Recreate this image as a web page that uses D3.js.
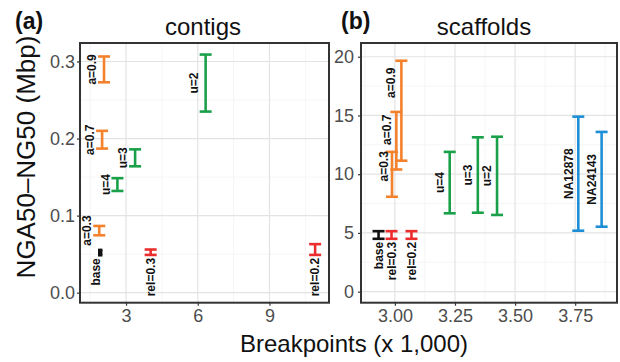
<!DOCTYPE html>
<html>
<head>
<meta charset="utf-8">
<script src="https://cdn.jsdelivr.net/npm/d3@7"></script>
<style>
  html, body { margin: 0; padding: 0; background: #fff; }
  svg { display: block; font-family: "Liberation Sans", Arial, Helvetica, sans-serif; }
</style>
</head>
<body>
<svg id="chart" width="620" height="362"></svg>
<script>
// ---------------- DATA ----------------
// (a) contigs
const contigLabels = ["base", "a=0.3", "a=0.7", "a=0.9", "u=4", "u=3", "u=2", "rel=0.3", "rel=0.2"];
const contigGroups = ["base", "a", "a", "a", "u", "u", "u", "rel", "rel"];
const contigBreakpoints = [1.92, 1.88, 2.0, 2.08, 2.64, 3.38, 6.33, 4.03, 10.91];
const contigLow  = [0.0486, 0.0745, 0.187, 0.273, 0.132, 0.164, 0.235, 0.049, 0.049];
const contigHigh = [0.0555, 0.0866, 0.210, 0.3065, 0.1486, 0.186, 0.309, 0.056, 0.063];
const contigXTicks = [3, 6, 9];
const contigYTicks = [0.0, 0.1, 0.2, 0.3];

// (b) scaffolds
const scaffoldLabels = ["base", "rel=0.3", "rel=0.2", "a=0.3", "a=0.7", "a=0.9", "u=4", "u=3", "u=2", "NA12878", "NA24143"];
const scaffoldGroups = ["base", "rel", "rel", "a", "a", "a", "u", "u", "u", "sample", "sample"];
const scaffoldBreakpoints = [2.932, 2.986, 3.069, 2.988, 3.006, 3.027, 3.228, 3.345, 3.425, 3.763, 3.86];
const scaffoldLow  = [4.5, 4.5, 4.5, 8.08, 10.4, 11.15, 6.67, 6.72, 6.53, 5.19, 5.53];
const scaffoldHigh = [5.15, 5.15, 5.15, 11.9, 15.3, 19.66, 11.9, 13.14, 13.19, 14.9, 13.6];
const scaffoldXTicks = [3.0, 3.25, 3.5, 3.75];
const scaffoldYTicks = [0, 5, 10, 15, 20];

// ---------------- STYLE / LAYOUT ----------------
const groupColor = { base: "#111111", a: "#f4812c", u: "#1ba04a", rel: "#ec2d2d", sample: "#1e8fd6" };
const belowGroups = new Set(["base", "rel"]);

const svg = d3.select("#chart");
const panelTop = 43, panelBottom = 302.7;

function drawPanel(cfg) {
  const x = d3.scaleLinear().domain(cfg.xDomain).range([cfg.left, cfg.right]);
  const y = d3.scaleLinear().domain(cfg.yDomain).range([panelBottom, panelTop]);
  const g = svg.append("g");

  // background
  g.append("rect").attr("x", cfg.left).attr("y", panelTop)
    .attr("width", cfg.right - cfg.left).attr("height", panelBottom - panelTop)
    .attr("fill", "#fff");

  // minor grid
  const xMinor = [], yMinor = [];
  const xs = cfg.xTicks, ys = cfg.yTicks;
  const xStep = xs[1] - xs[0], yStep = ys[1] - ys[0];
  for (let v = xs[0] - xStep / 2; v <= cfg.xDomain[1]; v += xStep) if (v >= cfg.xDomain[0]) xMinor.push(v);
  for (let v = ys[0] - yStep / 2; v <= cfg.yDomain[1]; v += yStep) if (v >= cfg.yDomain[0]) yMinor.push(v);
  g.selectAll(".xminor").data(xMinor).join("line")
    .attr("x1", d => x(d)).attr("x2", d => x(d)).attr("y1", panelTop).attr("y2", panelBottom)
    .attr("stroke", "#f2f2f2").attr("stroke-width", 0.8);
  g.selectAll(".yminor").data(yMinor).join("line")
    .attr("y1", d => y(d)).attr("y2", d => y(d)).attr("x1", cfg.left).attr("x2", cfg.right)
    .attr("stroke", "#f2f2f2").attr("stroke-width", 0.8);
  // major grid
  g.selectAll(".xmajor").data(xs).join("line")
    .attr("x1", d => x(d)).attr("x2", d => x(d)).attr("y1", panelTop).attr("y2", panelBottom)
    .attr("stroke", "#e3e3e3").attr("stroke-width", 1.2);
  g.selectAll(".ymajor").data(ys).join("line")
    .attr("y1", d => y(d)).attr("y2", d => y(d)).attr("x1", cfg.left).attr("x2", cfg.right)
    .attr("stroke", "#e3e3e3").attr("stroke-width", 1.2);

  // axes
  const xAxis = d3.axisBottom(x).tickValues(xs).tickFormat(cfg.xFormat).tickSize(3).tickSizeOuter(0).tickPadding(4);
  const yAxis = d3.axisLeft(y).tickValues(ys).tickFormat(cfg.yFormat).tickSize(3).tickSizeOuter(0).tickPadding(cfg.yPad);
  const gx = g.append("g").attr("transform", `translate(0,${panelBottom})`).call(xAxis);
  const gy = g.append("g").attr("transform", `translate(${cfg.left},0)`).call(yAxis);
  [gx, gy].forEach(a => {
    a.select(".domain").remove();
    a.selectAll(".tick line").attr("stroke", "#333").attr("stroke-width", 1.2);
    a.selectAll(".tick text").attr("fill", "#4d4d4d").style("font-size", "18px")
      .style("font-family", "'Liberation Sans', Arial, Helvetica, sans-serif");
  });

  // error bars
  const n = cfg.labels.length;
  const idx = d3.range(n);
  const bars = g.append("g");
  idx.forEach(i => {
    const col = groupColor[cfg.groups[i]];
    const cx = x(cfg.xv[i]);
    const yl = y(cfg.low[i]), yh = y(cfg.high[i]);
    const hw = (cfg.narrow && cfg.narrow.has(cfg.labels[i])) ? 2.2 : 6;
    const sw = 2.6;
    bars.append("line").attr("x1", cx).attr("x2", cx).attr("y1", yl).attr("y2", yh)
      .attr("stroke", col).attr("stroke-width", (hw < 3 ? 4.4 : sw));
    [yl, yh].forEach(yy => bars.append("line").attr("x1", cx - hw).attr("x2", cx + hw)
      .attr("y1", yy).attr("y2", yy).attr("stroke", col).attr("stroke-width", sw));
  });

  // labels (rotated)
  idx.forEach(i => {
    const cx = x(cfg.xv[i]);
    const yl = y(cfg.low[i]), yh = y(cfg.high[i]);
    const nudge = (cfg.nudge && cfg.nudge[cfg.labels[i]]) || [0, 0];
    let tx, ty, anchor;
    if (belowGroups.has(cfg.groups[i])) {
      tx = cx + nudge[0]; ty = yl + 3 + nudge[1]; anchor = "end";
    } else {
      tx = cx + cfg.labelOffset + nudge[0]; ty = (yl + yh) / 2 + nudge[1]; anchor = "middle";
    }
    g.append("text")
      .attr("transform", `translate(${tx},${ty}) rotate(-90)`)
      .attr("text-anchor", anchor).attr("dy", "0.35em")
      .style("font-size", "12px").style("font-weight", "bold").attr("fill", "#111")
      .text(cfg.labels[i]);
  });

  // border
  g.append("rect").attr("x", cfg.left).attr("y", panelTop)
    .attr("width", cfg.right - cfg.left).attr("height", panelBottom - panelTop)
    .attr("fill", "none").attr("stroke", "#333").attr("stroke-width", 2);

  // title and panel tag
  svg.append("text").attr("x", cfg.titleX).attr("y", 35).attr("text-anchor", "middle")
    .style("font-size", "24px").attr("fill", "#111").text(cfg.title);
  svg.append("text").attr("x", cfg.tagX).attr("y", 29)
    .style("font-size", "23px").style("font-weight", "bold").attr("fill", "#111").text(cfg.tag);
}

drawPanel({
  left: 80, right: 329,
  xDomain: [1.075, 11.49], yDomain: [-0.013, 0.324],
  xTicks: contigXTicks, yTicks: contigYTicks,
  xFormat: d3.format("d"), yFormat: d3.format(".1f"), yPad: 2,
  labels: contigLabels, groups: contigGroups, xv: contigBreakpoints, low: contigLow, high: contigHigh,
  narrow: new Set(["base"]),
  labelOffset: -12,
  nudge: { "base": [-4, 0] },
  title: "contigs", titleX: 203, tag: "(a)", tagX: 15
});

drawPanel({
  left: 361, right: 617,
  xDomain: [2.859, 3.924], yDomain: [-0.94, 21.17],
  xTicks: scaffoldXTicks, yTicks: scaffoldYTicks,
  xFormat: d3.format(".2f"), yFormat: d3.format("d"), yPad: 4,
  labels: scaffoldLabels, groups: scaffoldGroups, xv: scaffoldBreakpoints, low: scaffoldLow, high: scaffoldHigh,
  labelOffset: -10,
  nudge: { "a=0.3": [2, -8], "a=0.7": [0, -11], "a=0.9": [-1, -28] },
  title: "scaffolds", titleX: 484, tag: "(b)", tagX: 341
});

// shared axis titles
svg.append("text").attr("x", 354).attr("y", 352).attr("text-anchor", "middle")
  .style("font-size", "24px").attr("fill", "#111").text("Breakpoints (x 1,000)");
svg.append("text").attr("transform", "translate(26,157) rotate(-90)")
  .attr("text-anchor", "middle").attr("dy", "0.35em")
  .style("font-size", "26px").attr("fill", "#111").text("NGA50\u2013NG50 (Mbp)");
</script>
</body>
</html>
